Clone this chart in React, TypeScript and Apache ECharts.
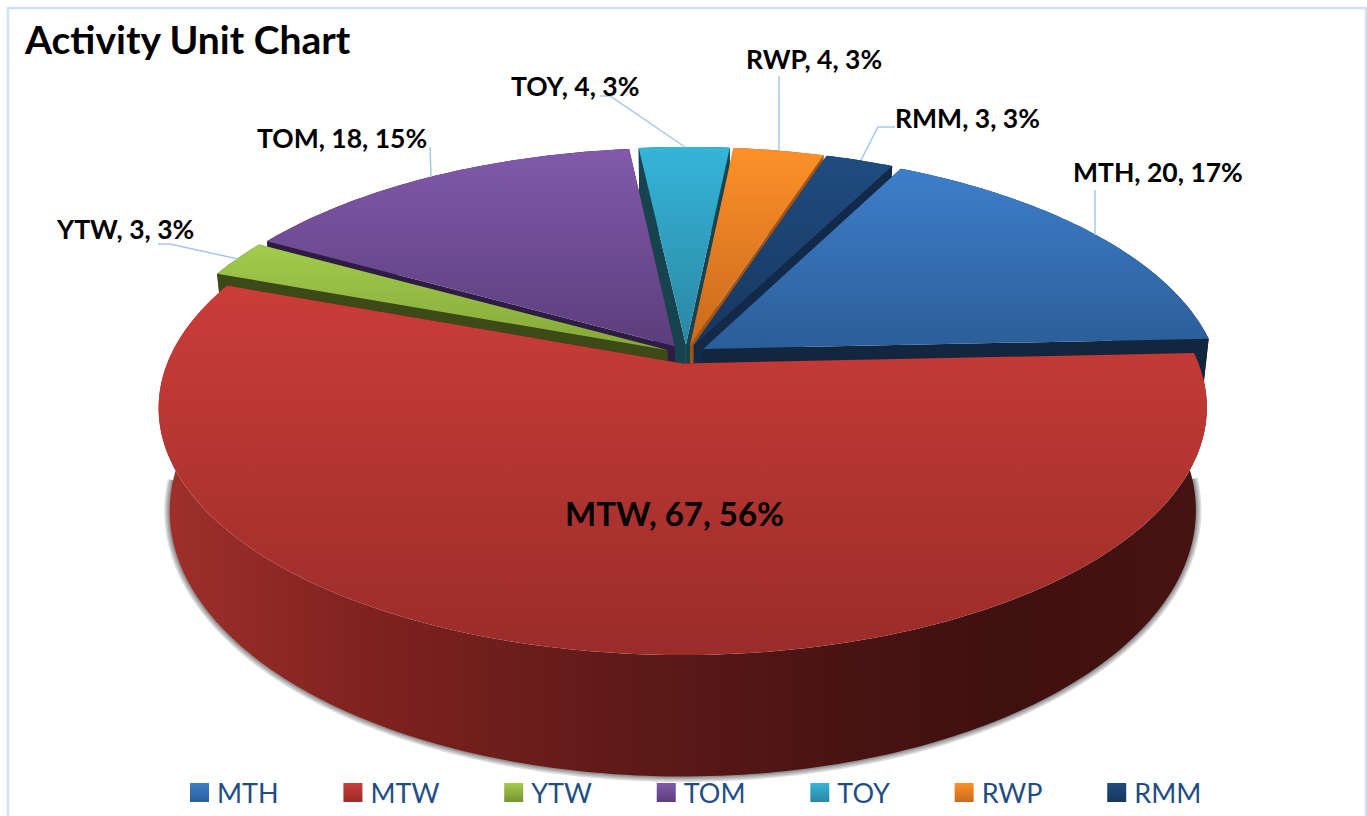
import React, { useEffect, useRef } from "react";
import * as echarts from "echarts";

// ---- data ----
const categories = ["MTH", "MTW", "YTW", "TOM", "TOY", "RWP", "RMM"];
const values = [20, 67, 3, 18, 4, 4, 3];
const chartTitle = "Activity Unit Chart";

// ---- styling, one row per category ----
const topColors = [
  ["#3e7ecb", "#2b5e98"],
  ["#cb3d39", "#9a2c29"],
  ["#a2cc4c", "#85a83a"],
  ["#8259ab", "#5b3e7c"],
  ["#35b5d9", "#2b86a2"],
  ["#fd9029", "#c96a1d"],
  ["#1f4c80", "#17375f"],
];
const sideColors = ["#12263f", "#3f1010", "#3c4a17", "#2f1c44", "#17434f", "#a05518", "#12294a"];
const legendColors = [
  ["#3e7ecb", "#2b5e98"],
  ["#cb3d39", "#9a2c29"],
  ["#a2cc4c", "#769330"],
  ["#8259ab", "#5b3e7c"],
  ["#35b5d9", "#2b86a2"],
  ["#fd9029", "#c96a1d"],
  ["#1f4c80", "#17375f"],
];
const drawOrder = [4, 5, 3, 6, 2, 0, 1];

// ---- label layout: x, y of the text and the leader line's points ----
const labelAnchor: Record<string, [number, number]> = {
  MTH: [1073, 172],
  MTW: [565, 513],
  YTW: [57, 229],
  TOM: [257, 138],
  TOY: [511, 86],
  RWP: [746, 59],
  RMM: [895, 118],
};
const leaders: Record<string, number[][]> = {
  MTH: [[1095, 190], [1095, 235]],
  YTW: [[158, 244], [170, 244], [238, 259]],
  TOM: [[430, 147], [431, 177]],
  TOY: [[600, 96], [610, 96], [685, 147]],
  RWP: [[779, 76], [779, 150]],
  RMM: [[895, 127], [878, 127], [861, 160]],
};

// ---- perspective pie geometry ----
const CX = 686;
const CY = 354;
const R = 512;
const RY = 236;
const K = 0.178;
const DEPTH = 99;
const BOTTOM_SCALE = 0.979;
const EXPLODE = 0.04;
const START_DEG = 27;
const FONT = "Lato";

const total = values.reduce((a, b) => a + b, 0);

function project(px: number, fwd: number, bottom: boolean): number[] {
  const w = 1 - K * fwd;
  const sc = bottom ? BOTTOM_SCALE : 1;
  return [CX + (sc * R * px) / w, CY + (RY * fwd) / w + (bottom ? DEPTH / w : 0)];
}

function sliceGeometry(index: number, value: number) {
  const before = values.slice(0, index).reduce((a, b) => a + b, 0);
  const a0 = START_DEG + (before / total) * 360;
  const a1 = a0 + (value / total) * 360;
  const mid = ((a0 + a1) / 2) * (Math.PI / 180);
  const ox = EXPLODE * Math.sin(mid);
  const of = -EXPLODE * Math.cos(mid);
  const plane: number[][] = [];
  const n = Math.max(4, Math.ceil(a1 - a0));
  for (let i = 0; i <= n; i++) {
    const a = ((a0 + ((a1 - a0) * i) / n) * Math.PI) / 180;
    plane.push([ox + Math.sin(a), of - Math.cos(a)]);
  }
  return { apex: [ox, of], plane };
}

function grad(horizontal: boolean, stops: string[]) {
  return new echarts.graphic.LinearGradient(
    0,
    0,
    horizontal ? 1 : 0,
    horizontal ? 0 : 1,
    stops.map((color, i) => ({ offset: i / (stops.length - 1), color }))
  );
}

const mtwWallStops = ["#a0302b", "#7f221f", "#641b1a", "#4e1514", "#3f1010", "#451312"];
const shadowLayers = [11, 8, 5, 2.5];

function makeRenderItem(index: number) {
  const name = categories[index];
  return (_params: any, api: any) => {
    const value = api.value(0);
    const { apex, plane } = sliceGeometry(index, value);
    const top = plane.map((p) => project(p[0], p[1], false));
    const bot = plane.map((p) => project(p[0], p[1], true));
    const apexTop = project(apex[0], apex[1], false);
    const apexBot = project(apex[0], apex[1], true);
    const side = sideColors[index];
    const children: any[] = [];
    const isMain = name === "MTW";
    if (isMain) {
      const rim = plane
        .filter((p) => p[1] > 0.1)
        .map((p) => project(p[0], p[1], true));
      shadowLayers.forEach((lineWidth) => {
        children.push({
          type: "polyline",
          shape: { points: rim },
          style: { stroke: "rgba(0,0,0,0.13)", lineWidth, fill: "none", lineJoin: "round" },
        });
      });
    }
    const wallA = [apexTop, top[0], bot[0], apexBot];
    const wallB = [apexTop, top[top.length - 1], bot[bot.length - 1], apexBot];
    children.push({ type: "polygon", shape: { points: wallA }, style: { fill: side } });
    children.push({ type: "polygon", shape: { points: wallB }, style: { fill: side } });
    children.push({
      type: "polygon",
      shape: { points: top.concat(bot.slice().reverse()) },
      style: { fill: isMain ? grad(true, mtwWallStops) : side },
    });
    children.push({
      type: "polygon",
      shape: { points: [apexTop].concat(top) },
      style: { fill: grad(false, topColors[index]) },
    });
    const leader = leaders[name];
    if (leader) {
      children.push({
        type: "polyline",
        shape: { points: leader },
        style: { stroke: "#a6c7ec", lineWidth: 1.5, fill: "none" },
      });
    }
    const pct = Math.round((value / total) * 100);
    const anchor = labelAnchor[name];
    children.push({
      type: "text",
      style: {
        text: `${name}, ${value}, ${pct}%`,
        x: anchor[0],
        y: anchor[1],
        fontFamily: FONT,
        fontWeight: "bold",
        fontSize: isMain ? 33 : 26.5,
        fill: "#000000",
        align: "left",
        verticalAlign: "middle",
      },
    });
    return { type: "group", children };
  };
}

export default function App() {
  const ref = useRef<HTMLDivElement>(null);
  useEffect(() => {
    const chart = echarts.init(ref.current!, null, { renderer: "svg" });
    chart.setOption({
      animation: false,
      backgroundColor: "#ffffff",
      title: {
        text: chartTitle,
        left: 20,
        top: 14,
        textStyle: { fontFamily: FONT, fontWeight: "bold", fontSize: 39, color: "#000000" },
      },
      legend: {
        data: categories,
        left: 190,
        top: 779,
        itemWidth: 19,
        itemHeight: 19,
        itemGap: 64.8,
        icon: "rect",
        padding: 0,
        selectedMode: false,
        textStyle: { fontFamily: FONT, fontSize: 27, color: "#1f4e85", padding: [0, 0, 0, 3] },
      },
      graphic: [
        {
          type: "rect",
          silent: true,
          z: -1,
          shape: { x: 8, y: 8, width: 1358, height: 900 },
          style: { fill: "#ffffff", stroke: "#d0e1f4", lineWidth: 2.5 },
        },
      ],
      series: drawOrder.map((i) => ({
        type: "custom",
        name: categories[i],
        coordinateSystem: "none",
        renderItem: makeRenderItem(i),
        data: [[values[i]]],
        itemStyle: { color: grad(false, legendColors[i]) },
      })),
    });
    return () => chart.dispose();
  }, []);
  return (
    <div
      ref={ref}
      style={{ position: "absolute", left: 0, top: 0, width: 1367, height: 816, overflow: "hidden" }}
    />
  );
}
